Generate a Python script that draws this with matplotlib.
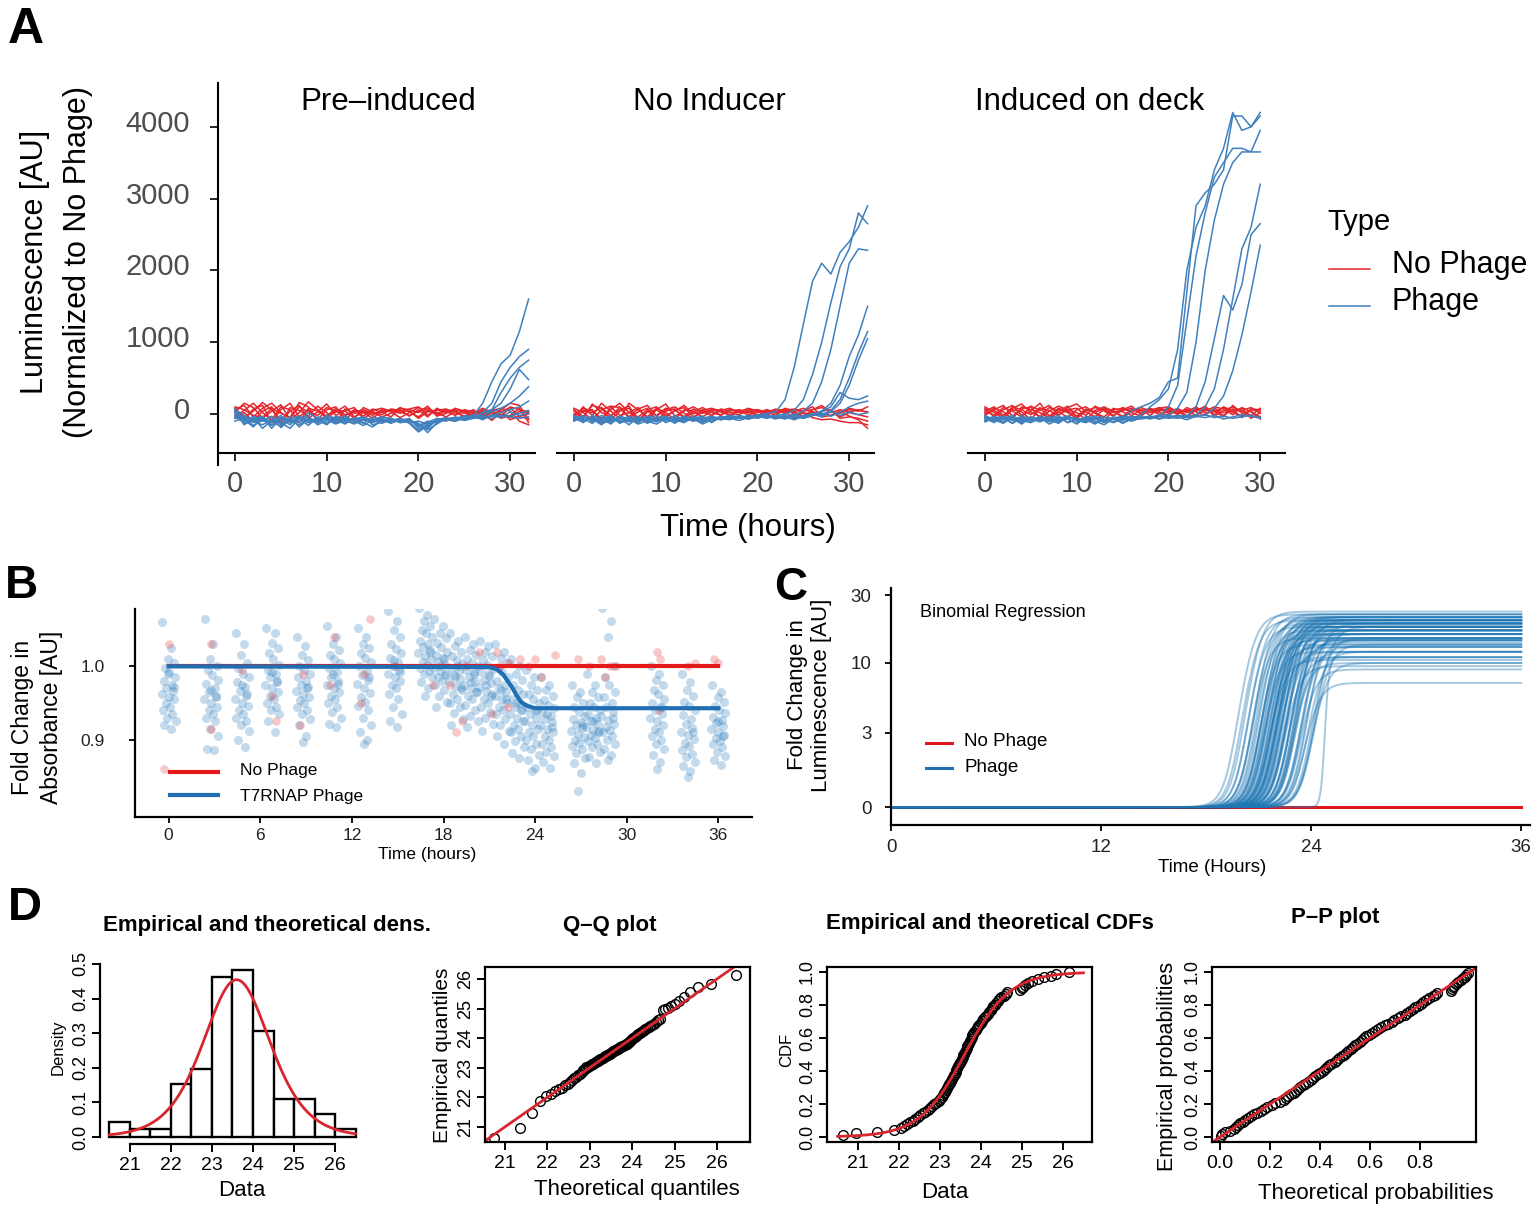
import numpy as np
import matplotlib
matplotlib.use("Agg")
import matplotlib.pyplot as plt
import matplotlib.transforms as mtransforms
from matplotlib.lines import Line2D
from matplotlib.ticker import NullLocator

plt.rcParams["font.family"] = ["Liberation Sans", "DejaVu Sans"]

# ---------------- Panel A: luminescence traces (AU), one value per hour ----------------
hours_a = list(range(33))
hours_a3 = list(range(31))

pre_red = [
    [60, 120, -40, 80, 150, 20, -60, 100, 30, -20, 90, 40, -30, 60, 20, 50, 80, 40, 10, 70, 100, -20, 60, 30, -10, 50, 20, 40, -30, 60, 150, 120, -80],
    [-30, 50, 150, 20, -80, 100, 60, -120, 80, 40, -50, 30, 110, -40, 20, -60, 40, 60, 30, -20, 40, 80, 20, -40, 30, 10, 60, -50, 20, -60, -20, 80, -120],
    [80, -50, 40, 160, 60, -100, 40, 120, -60, 30, 140, -20, 50, 90, -70, 30, -10, 70, 50, 40, -60, 30, 50, 70, 20, -30, 40, 10, -90, 30, 90, -40, -60],
    [20, 150, 90, -60, 40, 130, -80, 20, 170, 60, -30, 80, -10, 30, 60, 10, 30, -40, 80, 60, 20, 110, -30, 10, 80, 40, -20, 60, 40, -10, -50, 40, 20],
    [-60, 20, -100, 40, 100, -150, 90, 50, -30, 110, 20, -120, 70, 10, 40, -20, 60, 30, -50, 20, 90, 40, 10, 60, -20, 60, 30, -10, 50, 80, 40, -100, -150],
    [40, -80, 70, 120, -120, 60, 150, -40, 60, -80, 60, 100, -90, 50, -30, 70, 20, 50, 60, -30, 60, -40, 80, 20, 50, -50, 10, 80, 20, -40, 100, 60, 30],
    [100, 60, -20, -50, 80, 10, -50, 160, 100, -100, -20, 50, 40, -60, 90, 30, -40, 10, 90, 30, -40, 60, -10, 40, 60, 30, -40, 20, 60, 30, -80, -30, 0],
]
pre_blue = [
    [50, -150, -60, -100, -30, -190, -80, -120, 20, -60, -140, -30, -80, -60, -120, -180, -90, -70, -100, -110, -230, -140, -90, -80, -60, -30, -20, 150, 450, 700, 820, 1150, 1600],
    [-20, -80, -180, -40, -120, -60, -150, -30, -90, -120, -50, -100, -20, -110, -70, -100, -60, -120, -90, -80, -180, -120, -60, -100, -40, -70, -50, 20, 150, 450, 650, 800, 900],
    [80, -100, -40, -200, -90, -20, -120, -60, -160, -40, -80, -140, -60, -90, -130, -40, -80, -70, -120, -100, -140, -200, -80, -50, -90, -40, -20, -30, 60, 300, 500, 650, 750],
    [-60, -30, -120, -70, -150, -100, -40, -180, -70, -100, -20, -60, -120, -70, -40, -150, -110, -90, -60, -130, -250, -160, -100, -70, -50, -80, -40, 20, 60, 150, 350, 620, 480],
    [30, -140, -80, -30, -200, -60, -100, -40, -120, -80, -150, -40, -90, -140, -60, -120, -60, -100, -80, -70, -160, -100, -110, -60, -70, -30, -60, -20, 30, 80, 150, 250, 380],
    [-100, -50, -160, -90, -40, -140, -70, -110, -30, -150, -90, -70, -40, -100, -160, -80, -40, -60, -120, -90, -130, -260, -120, -80, -100, -60, -40, -70, -20, 20, 60, 100, 180],
    [0, -60, -110, -150, -80, -120, -200, -60, -90, -60, -120, -80, -140, -50, -90, -80, -100, -60, -110, -60, -200, -180, -70, -90, -60, -80, -50, -60, -30, -20, -40, -60, -40],
    [-40, -120, -30, -80, -160, -40, -100, -150, -60, -130, -40, -110, -70, -130, -60, -110, -80, -130, -70, -90, -150, -220, -140, -60, -100, -50, -30, -80, -10, -50, 30, -20, 10],
    [60, -20, -90, -60, -110, -170, -60, -30, -120, -90, -60, -130, -100, -80, -40, -90, -130, -80, -90, -120, -100, -140, -110, -70, -50, -90, -60, -40, -60, -20, -30, 10, 50],
]
noind_red = [
    [-20, 80, 40, -60, 60, 150, 20, -40, 60, 100, -20, 40, 120, 0, 60, -20, 50, 80, 20, 40, 60, -10, 40, 70, 20, -30, 60, 90, 30, 10, 60, 40, 100],
    [60, -40, 120, 80, -80, 40, 80, -120, 40, -20, 80, 60, -40, 70, 10, 60, 30, -10, 50, 20, 30, 50, 10, 40, -60, 50, 100, -40, -20, 40, -30, -80, -200],
    [-50, 100, -20, 150, 40, -60, 150, 60, -40, 80, 20, -80, 60, 40, -40, 40, -20, 60, 40, -10, 20, 60, 30, 20, 60, 20, -20, 40, 60, -60, -40, -60, -100],
    [80, 20, -80, 60, 110, 90, -40, 70, 120, -30, 60, 100, 10, -60, 50, 80, 40, 20, -10, 60, 50, 20, 70, 10, 40, 80, 30, 10, -20, 30, 80, 50, 30],
    [0, 50, 60, -100, 100, -20, 20, 90, -70, 60, 140, -30, 40, 100, 30, -20, 70, 40, 60, 30, -20, 40, 50, 60, 0, 10, -50, -80, -70, -100, -120, -120, -150],
    [40, -60, 140, 20, -40, 100, -60, 30, 80, -100, 40, 70, -60, 30, 90, 20, -10, 60, 30, 80, 40, -10, 30, 50, 70, 40, 60, 120, 20, 60, 30, 60, 20],
    [-80, 40, 20, 90, -20, 60, 110, -80, 30, 60, -40, 50, 90, -40, 20, 60, 50, -30, 40, 20, 60, 30, -20, 80, 40, -40, 30, -30, 40, -40, 20, -10, -40],
]
noind_blue = [
    [-20, -80, -40, -120, -60, -90, -30, -110, -50, -80, -40, -90, -60, -100, -40, -70, -50, -30, -60, -40, -20, 10, 30, 200, 650, 1250, 1850, 2100, 1950, 2250, 2400, 2600, 2900],
    [-60, -30, -100, -50, -140, -40, -80, -120, -30, -90, -60, -130, -40, -70, -110, -50, -80, -60, -40, -70, -30, -50, -20, 0, 50, 200, 550, 1000, 1550, 2050, 2300, 2800, 2650],
    [-100, -40, -70, -150, -20, -110, -60, -40, -130, -50, -100, -20, -90, -60, -30, -120, -40, -70, -50, -30, -60, -20, -40, -60, -20, 40, 150, 450, 900, 1500, 2100, 2300, 2280],
    [-40, -120, -20, -80, -100, -60, -150, -40, -70, -110, -30, -80, -120, -50, -90, -40, -60, -80, -20, -50, -40, -10, -60, -30, -70, -20, 0, 40, 150, 400, 800, 1100, 1500],
    [-80, -20, -110, -60, -30, -130, -50, -90, -60, -20, -120, -70, -40, -100, -60, -30, -80, -40, -60, -20, -50, -30, -70, -10, -40, -60, -20, -10, 50, 200, 500, 850, 1150],
    [-30, -90, -50, -140, -80, -40, -100, -60, -120, -70, -40, -90, -30, -80, -120, -60, -40, -70, -50, -30, -20, -50, -40, -70, -20, -40, 0, -30, 30, 150, 400, 750, 1050],
    [-50, -70, -130, -20, -90, -60, -110, -80, -40, -100, -70, -50, -100, -60, -140, -80, -50, -20, -40, -60, -10, -40, -30, -50, 0, -60, -20, 30, 100, 300, 220, 200, 250],
    [-90, -40, -60, -100, -120, -30, -70, -140, -90, -60, -30, -110, -80, -40, -70, -100, -60, -50, -30, -70, -40, -20, -50, -30, -10, -50, -20, 10, -30, 20, 100, 150, 180],
    [-60, -110, -30, -70, -50, -120, -90, -40, -100, -140, -60, -70, -110, -30, -90, -70, -40, -60, -90, -50, -30, -60, -20, -40, -80, -30, 0, -40, 40, -20, 30, -10, 20],
]
deck_red = [
    [40, 100, -20, 80, 140, 20, -30, 90, 40, -50, 60, 100, 10, -40, 80, 30, -20, 60, 20, 40, 80, 10, 50, -20, 60, 30, 90, 20, -30, 60, 40],
    [80, -40, 60, 120, -20, 40, 150, -30, 70, 20, -60, 40, 90, 60, -20, 50, 80, 10, 60, -10, 40, 70, 20, 60, 90, -30, 50, 100, 40, -20, 80],
    [-20, 60, 120, -30, 70, 100, -60, 40, 110, 60, 20, -80, 50, 100, 30, -30, 60, 40, 80, 20, -20, 60, 30, 100, 10, 60, -20, 70, 50, 90, 10],
    [100, 20, -60, 60, 30, -80, 80, 50, -20, 90, 140, 30, -40, 70, 20, 60, 110, -10, 50, 90, 30, 40, -40, 80, 40, 100, 70, -10, 90, 30, -40],
    [0, 80, 30, -70, 100, 60, 20, -60, 80, 40, -30, 70, 30, -100, 60, 80, 20, -30, 70, 50, 60, -10, 90, 30, -20, 80, 20, 60, -50, 70, 60],
    [60, -20, 90, 40, -40, 110, 50, 120, -10, 60, 80, -20, 110, 40, -30, 90, 40, 60, -20, 80, 100, 30, 60, 40, 110, -10, 100, 40, 80, -60, 20],
    [20, 50, -40, 100, 60, -10, 90, -70, 30, 110, -40, 60, 20, 80, 50, -50, 30, 90, 40, 70, 10, 80, -30, 50, 70, 40, -40, 120, 10, 40, -70],
]
deck_blue = [
    [-40, -100, -60, -20, -120, -70, -50, -140, -80, -30, -100, -60, -120, -90, -40, -70, 50, 100, 150, 230, 450, 500, 1700, 2900, 3080, 3200, 3400, 4150, 4150, 4000, 4200],
    [-80, -30, -110, -60, -140, -40, -90, -60, -20, -120, -80, -50, -100, -150, -60, -30, -50, -20, 100, 200, 350, 900, 2000, 2600, 2900, 3400, 3700, 4200, 3950, 4000, 4150],
    [-20, -90, -50, -130, -60, -100, -30, -80, -120, -50, -70, -110, -40, -90, -60, -130, -70, -40, -60, -30, 100, 400, 1300, 2200, 2800, 3300, 3500, 3700, 3700, 3650, 3950],
    [-100, -50, -80, -30, -90, -120, -60, -40, -100, -70, -130, -60, -30, -80, -110, -50, -80, -60, -40, -20, -10, 80, 300, 1000, 2000, 2700, 3200, 3500, 3650, 3650, 3650],
    [-60, -120, -30, -90, -50, -70, -110, -40, -80, -60, -140, -30, -70, -100, -50, -120, -60, -40, -70, -30, -50, -20, -30, 100, 450, 1050, 1650, 1450, 1800, 2500, 2650],
    [-30, -70, -110, -50, -80, -40, -100, -70, -130, -40, -60, -90, -50, -80, -120, -70, -30, -60, -40, -70, -20, -50, -40, -10, 100, 350, 900, 1600, 2300, 2600, 3200],
    [-90, -40, -60, -130, -20, -80, -50, -110, -60, -30, -90, -120, -60, -40, -80, -60, -100, -50, -30, -60, -40, -20, -50, -30, -10, 80, 250, 600, 1100, 1700, 2350],
    [-50, -80, -130, -40, -70, -100, -60, -90, -40, -120, -60, -80, -140, -50, -70, -40, -90, -60, -30, -70, -40, -60, -20, -40, -10, -50, -30, -60, -40, -20, -50],
    [-110, -60, -30, -90, -110, -50, -80, -60, -100, -30, -90, -50, -70, -120, -60, -90, -40, -70, -50, -20, -60, -40, -80, -30, -50, -20, -70, -40, -10, -30, -60],
]
facet_titles = ["Pre\u2013induced", "No Inducer", "Induced on deck"]

# ---------------- Panel B: absorbance fold change ----------------
b_col_times = [0, 2.8, 4.8, 6.8, 8.8, 10.8, 12.8, 14.8, 16.8, 17.8, 18.8, 19.8,
               20.8, 21.8, 22.8, 23.8, 24.8, 26.8, 27.8, 28.8, 32, 34, 36]
b_jitter = [-0.35, 0.12, -0.05, 0.30, -0.20, 0.05, 0.38, -0.28, 0.18, -0.12, 0.25, -0.40,
            0.00, 0.33, -0.15, 0.08, -0.32, 0.22, -0.08, 0.40, -0.25, 0.15, -0.02, 0.28]
# fold change x1000, one list per time column
b_cols = [
    [1060, 1025, 1010, 1005, 998, 992, 985, 980, 975, 970, 966, 962, 958, 955, 950, 945, 940, 935, 930, 925, 920, 915, 990, 972],
    [1065, 1030, 1010, 1000, 995, 988, 982, 976, 970, 965, 960, 955, 950, 945, 940, 935, 930, 925, 915, 905, 888, 886, 968, 958],
    [1045, 1030, 1015, 1005, 998, 990, 985, 978, 972, 966, 960, 955, 950, 946, 940, 935, 930, 925, 920, 912, 900, 890, 975, 962],
    [1052, 1045, 1032, 1025, 1018, 1010, 1002, 995, 990, 985, 980, 975, 970, 965, 960, 955, 950, 945, 940, 935, 925, 910, 992, 978],
    [1040, 1028, 1015, 1008, 1000, 995, 990, 985, 980, 975, 970, 966, 962, 958, 954, 950, 945, 940, 935, 928, 920, 905, 897, 972],
    [1055, 1040, 1030, 1022, 1015, 1010, 1004, 998, 992, 986, 980, 975, 970, 965, 960, 955, 950, 945, 938, 930, 922, 918, 990, 976],
    [1052, 1040, 1030, 1025, 1018, 1012, 1006, 1000, 994, 988, 982, 976, 970, 964, 958, 952, 946, 940, 930, 920, 910, 900, 895, 985],
    [1075, 1062, 1050, 1040, 1030, 1024, 1018, 1012, 1006, 1000, 995, 990, 985, 980, 975, 970, 962, 955, 945, 935, 925, 918, 1008, 992],
    [1080, 1070, 1062, 1055, 1050, 1045, 1040, 1035, 1030, 1026, 1022, 1018, 1014, 1010, 1006, 1002, 998, 994, 990, 985, 978, 970, 960, 1020],
    [1065, 1055, 1045, 1038, 1032, 1026, 1020, 1015, 1010, 1006, 1002, 998, 994, 990, 985, 980, 975, 968, 960, 952, 945, 1012, 1000, 988],
    [1045, 1035, 1028, 1020, 1014, 1008, 1003, 998, 993, 988, 983, 978, 973, 968, 962, 956, 950, 944, 936, 928, 920, 1000, 985, 970],
    [1040, 1030, 1022, 1015, 1010, 1005, 1000, 995, 990, 985, 980, 975, 970, 965, 960, 955, 948, 940, 932, 925, 918, 992, 978, 965],
    [1035, 1028, 1020, 1014, 1008, 1002, 997, 992, 987, 982, 977, 972, 967, 962, 956, 950, 944, 938, 930, 922, 912, 990, 975, 960],
    [1030, 1020, 1012, 1005, 998, 992, 986, 980, 975, 970, 965, 960, 955, 950, 945, 940, 935, 928, 920, 912, 905, 895, 968, 955],
    [1010, 1000, 990, 982, 975, 968, 962, 956, 950, 945, 940, 935, 930, 925, 920, 915, 910, 905, 898, 890, 882, 875, 950, 940],
    [995, 985, 975, 968, 962, 956, 950, 945, 940, 935, 930, 925, 920, 915, 910, 905, 900, 895, 888, 880, 872, 862, 858, 940],
    [985, 975, 968, 960, 954, 948, 943, 938, 933, 928, 924, 920, 915, 910, 905, 900, 895, 890, 884, 878, 870, 862, 935, 918],
    [975, 965, 958, 950, 944, 938, 933, 928, 924, 920, 916, 912, 908, 904, 900, 896, 892, 888, 882, 875, 868, 855, 830, 920],
    [990, 975, 965, 958, 950, 945, 940, 935, 930, 926, 922, 918, 914, 910, 906, 902, 898, 894, 890, 884, 876, 868, 925, 912],
    [1080, 1062, 1040, 1000, 985, 975, 965, 958, 950, 944, 938, 932, 927, 922, 918, 914, 910, 905, 900, 895, 888, 880, 872, 930],
    [1000, 990, 982, 975, 968, 962, 956, 950, 945, 940, 935, 930, 925, 920, 915, 910, 905, 900, 895, 888, 880, 870, 860, 945],
    [990, 978, 968, 960, 952, 946, 940, 934, 928, 922, 916, 911, 906, 901, 896, 891, 886, 881, 876, 870, 864, 858, 850, 910],
    [975, 965, 958, 952, 946, 941, 936, 931, 927, 923, 919, 915, 911, 907, 903, 899, 895, 890, 884, 878, 872, 866, 925, 905],
]
b_red_t = [0, -0.3, 2.8, 2.8, 4.8, 6.8, 7.0, 8.8, 8.6, 10.8, 10.6, 12.8, 12.6, 13.2, 14.8, 17.3, 18.4, 18.8,
           19.5, 20.3, 21.5, 21.7, 22.3, 23.0, 23.6, 24.0, 24.4, 25.3, 26.8, 27.5, 28.3, 28.9, 29.3, 28.6,
           32.0, 32.2, 32.1, 34.0, 34.5, 35.7, 36.0, 22.2, 21.2, 19.2]
b_red_y = [1.03, 0.86, 1.03, 0.915, 0.995, 0.96, 0.925, 0.99, 0.92, 1.04, 0.975, 0.99, 0.95, 1.065, 1.0, 0.975,
           0.975, 0.91, 1.0, 1.02, 1.02, 1.0, 1.005, 1.01, 1.0, 1.01, 0.985, 1.015, 1.01, 1.0, 1.01, 1.0, 1.0,
           0.985, 1.02, 1.01, 0.94, 1.0, 1.005, 1.01, 1.005, 0.945, 0.935, 0.925]
b_fit_t = [0, 21.0, 21.5, 21.9, 22.2, 22.5, 22.8, 23.1, 23.5, 24.0, 36]
b_fit_phage = [1.0, 0.999, 0.996, 0.989, 0.980, 0.971, 0.960, 0.951, 0.946, 0.943, 0.943]
b_fit_nophage_t = [0, 36]
b_fit_nophage = [1.0, 1.0]

# ---------------- Panel C: binomial regression curves ----------------
c_mid = [20.5, 20.7, 20.9, 21.0, 21.1, 21.2, 21.3, 21.4, 21.5, 21.5, 21.6, 21.7, 21.7, 21.8, 21.8, 21.9,
         21.9, 22.0, 22.0, 22.0, 22.1, 22.1, 22.2, 22.2, 22.2, 22.3, 22.3, 22.3, 22.4, 22.4, 22.5, 22.5,
         22.5, 22.6, 22.6, 22.6, 22.7, 22.7, 22.7, 22.8, 22.8, 22.8, 22.9, 22.9, 22.9, 23.0, 23.0, 23.1,
         23.1, 23.1, 23.2, 23.2, 23.3, 23.3, 23.4, 23.4, 23.5, 23.5, 23.6, 23.6, 23.7, 23.7, 23.8, 23.8,
         23.9, 24.0, 24.0, 24.1, 24.2, 24.3, 24.4, 24.5, 24.6, 24.7, 24.8, 24.9]
c_plateau = [22, 20, 23, 18, 21, 15, 19, 22, 17, 20, 13.5, 21, 16, 19, 12, 18, 22, 14.5, 20, 17, 19, 10.5,
             21, 16, 13, 18, 20, 15, 17, 11, 19, 21, 13.5, 18, 16, 20, 12, 17, 19, 14.5, 21, 18, 9.5, 16,
             20, 13, 19, 17, 15, 21, 11, 18, 14, 20, 16, 10, 19, 14.5, 17, 12, 18, 15, 9, 20, 13, 7.2, 16,
             17, 14.5, 12, 19, 10, 15, 13.5, 18, 11]
c_scale = [0.45] * 75 + [0.12]

# ---------------- Panel D: fitted distribution of 91 values ----------------
d_values = [20.62, 20.96, 21.46, 21.88,
            22.04, 22.12, 22.20, 22.27, 22.33, 22.40, 22.46,
            22.52, 22.58, 22.64, 22.70, 22.75, 22.80, 22.86, 22.91, 22.97,
            23.01, 23.04, 23.06, 23.09, 23.12, 23.14, 23.17, 23.19, 23.22, 23.24, 23.26, 23.29, 23.31,
            23.33, 23.36, 23.38, 23.40, 23.42, 23.44, 23.46, 23.48,
            23.51, 23.53, 23.55, 23.57, 23.59, 23.61, 23.63, 23.65, 23.67, 23.69, 23.71, 23.73, 23.75,
            23.77, 23.79, 23.81, 23.84, 23.87, 23.90, 23.93, 23.96, 23.99,
            24.03, 24.06, 24.10, 24.13, 24.17, 24.20, 24.24, 24.27, 24.30, 24.34, 24.37, 24.41, 24.45, 24.49,
            24.56, 24.60, 24.64, 24.96, 24.99,
            25.03, 25.08, 25.14, 25.25, 25.40,
            25.55, 25.72, 25.82, 26.14]
d_bins = [20.5, 21.0, 21.5, 22.0, 22.5, 23.0, 23.5, 24.0, 24.5, 25.0, 25.5, 26.0, 26.5]
fit_loc, fit_scale = 23.6, 0.55   # fitted logistic distribution

for s in pre_red + pre_blue + noind_red + noind_blue:
    assert len(s) == 33
for s in deck_red + deck_blue:
    assert len(s) == 31
assert len(c_mid) == len(c_plateau) == len(c_scale)
assert len(d_values) == 91

# ---------------- figure ----------------
W, H = 1540, 1210
fig = plt.figure(figsize=(W / 100, H / 100), dpi=100)


def px_axes(left, top, right, bottom):
    return fig.add_axes([left / W, 1 - bottom / H, (right - left) / W, (bottom - top) / H])


def ftext(x, y, s, **kw):
    kw.setdefault("ha", "center")
    kw.setdefault("va", "center")
    return fig.text(x / W, 1 - y / H, s, **kw)


def fline(x0, x1, y, **kw):
    fig.add_artist(Line2D([x0 / W, x1 / W], [1 - y / H, 1 - y / H], transform=fig.transFigure, **kw))


RED_A, BLUE_A = "#e4272d", "#3f80bd"
GREY = "#4d4d4d"

# ---- Panel A
a_axes_x = [(218, 535), (557, 874), (968, 1285)]
a_title_x = [388, 709, 1090]
a_data = [(hours_a, pre_red, pre_blue), (hours_a, noind_red, noind_blue), (hours_a3, deck_red, deck_blue)]
lift = mtransforms.ScaledTranslation(0, 6 / 100, fig.dpi_scale_trans)
for i, ((l, r), (tt, reds, blues)) in enumerate(zip(a_axes_x, a_data)):
    ax = px_axes(l, 83, r, 453)
    for s in reds:
        ax.plot(tt, s, color=RED_A, lw=1.1)
    for s in blues:
        ax.plot(tt, s, color=BLUE_A, lw=1.1)
    ax.set_xlim(-1.85, 32.7)
    ax.set_ylim(-543, 4610)
    ax.set_xticks([0, 10, 20, 30])
    for sp in ("top", "right"):
        ax.spines[sp].set_visible(False)
    ax.spines["bottom"].set_linewidth(1.5)
    ax.tick_params(axis="x", length=6, width=1.2, labelsize=21, labelcolor=GREY, pad=6)
    if i == 0:
        ax.set_yticks([0, 1000, 2000, 3000, 4000])
        ax.spines["left"].set_linewidth(1.5)
        ax.spines["left"].set_bounds(-710, 4610)
        ax.tick_params(axis="y", length=6, width=1.2, labelsize=21, labelcolor=GREY, pad=14)
        for lab in ax.get_yticklabels():
            lab.set_transform(lab.get_transform() + lift)
    else:
        ax.spines["left"].set_visible(False)
        ax.set_yticks([])
    ftext(a_title_x[i], 102, facet_titles[i], fontsize=22.5)

ftext(748, 528, "Time (hours)", fontsize=22.5)
ftext(35, 262, "Luminescence [AU]", fontsize=22, rotation=90)
ftext(78, 262, "(Normalized to No Phage)", fontsize=22, rotation=90)
ftext(1327, 222, "Type", fontsize=21, ha="left")
fline(1329, 1370, 269, color=RED_A, lw=1.1)
fline(1329, 1370, 306, color=BLUE_A, lw=1.1)
ftext(1392, 265, "No Phage", fontsize=22, ha="left")
ftext(1392, 302, "Phage", fontsize=22, ha="left")

# ---- Panel B
RED_B, BLUE_B = "#e31a1c", "#1f6fb2"
axb = px_axes(135, 609, 752, 817)
bx = np.concatenate([np.array(b_jitter) * 1.15 + t for t in b_col_times])
by = np.concatenate([np.array(c) / 1000 for c in b_cols])
axb.scatter(bx, by, s=42, color="#2a7bbd", alpha=0.28, lw=0)
axb.scatter(b_red_t, b_red_y, s=38, color="#e8474b", alpha=0.3, lw=0)
axb.plot(b_fit_nophage_t, b_fit_nophage, color=RED_B, lw=3)
axb.plot(b_fit_t, b_fit_phage, color=BLUE_B, lw=3)
axb.set_xlim(-2.2, 38.2)
axb.set_ylim(0.795, 1.078)
axb.set_xticks([0, 6, 12, 18, 24, 30, 36])
axb.set_yticks([0.9, 1.0])
axb.set_yticklabels(["0.9", "1.0"])
for sp in ("top", "right"):
    axb.spines[sp].set_visible(False)
for sp in ("left", "bottom"):
    axb.spines[sp].set_linewidth(1.6)
axb.tick_params(axis="both", length=4, width=1.3, labelsize=12.5, labelcolor="#222222")
axb.tick_params(axis="y", pad=18)
axb.tick_params(axis="x", pad=4)
ftext(427, 855, "Time (hours)", fontsize=12.5)
ftext(23, 717, "Fold Change in", fontsize=16.5, rotation=90)
ftext(52, 717, "Absorbance [AU]", fontsize=16.5, rotation=90)
fline(170, 218, 772, color=RED_B, lw=3)
fline(170, 218, 795, color=BLUE_B, lw=3)
ftext(240, 771, "No Phage", fontsize=12.5, ha="left")
ftext(240, 796, "T7RNAP Phage", fontsize=12.5, ha="left")

# ---- Panel C
axc = px_axes(891, 588, 1530, 825)
tc = np.linspace(0, 36, 721)
axc.plot([0, 36], [0, 0], color="#e0191e", lw=2.2)
for m, p, sc in zip(c_mid, c_plateau, c_scale):
    axc.plot(tc, p / (1 + np.exp(-(tc - m) / sc)), color="#1f77b4", alpha=0.4, lw=1.4)
axc.set_yscale("asinh", linear_width=2)
axc.set_ylim(-0.58, 33.6)
axc.set_xlim(0, 36.5)
axc.set_yticks([0, 3, 10, 30])
axc.set_yticklabels(["0", "3", "10", "30"])
axc.yaxis.set_minor_locator(NullLocator())
axc.set_xticks([0, 12, 24, 36])
for sp in ("top", "right"):
    axc.spines[sp].set_visible(False)
for sp in ("left", "bottom"):
    axc.spines[sp].set_linewidth(1.6)
axc.tick_params(axis="both", length=4, width=1.3, labelsize=13.5, labelcolor="#222222")
axc.tick_params(axis="y", pad=10)
axc.tick_params(axis="x", pad=6)
ftext(1212, 867, "Time (Hours)", fontsize=13.5)
ftext(797, 695, "Fold Change in", fontsize=16, rotation=90)
ftext(822, 695, "Luminescence [AU]", fontsize=16, rotation=90)
ftext(920, 612, "Binomial Regression", fontsize=13, ha="left")
fline(926, 952, 743, color="#e0191e", lw=2.2)
fline(926, 952, 768, color="#1f6fb2", lw=2.2)
ftext(964, 742, "No Phage", fontsize=13.5, ha="left")
ftext(964, 768, "Phage", fontsize=13.5, ha="left")

# ---- Panel D
RED_D = "#d7262e"
data = np.array(d_values)
n = len(data)
xs = np.sort(data)
pp = (np.arange(1, n + 1) - 0.5) / n
ecdf = np.arange(1, n + 1) / n
grid = np.linspace(20.5, 26.5, 400)
zg = np.exp(-(grid - fit_loc) / fit_scale)
pdf = zg / (fit_scale * (1 + zg) ** 2)
cdf = 1 / (1 + zg)
theo_q = fit_loc + fit_scale * np.log(pp / (1 - pp))
theo_p = 1 / (1 + np.exp(-(xs - fit_loc) / fit_scale))


def d_style(ax, box=True):
    for sp in ax.spines.values():
        sp.set_linewidth(1.6)
        sp.set_visible(box)
    ax.tick_params(axis="both", length=6, width=1.4, labelsize=14, pad=3)
    ax.tick_params(axis="y", labelsize=13, pad=2)
    for lab in ax.get_yticklabels():
        lab.set_rotation(90)
        lab.set_va("center")


mk = dict(marker="o", ls="none", mfc="none", mec="black", ms=7, mew=1.0)

# D1 histogram + density
ax1 = px_axes(100, 955, 365, 1144)
ax1.hist(data, bins=d_bins, density=True, facecolor="white", edgecolor="black", lw=1.7)
ax1.plot(grid, pdf, color=RED_D, lw=2)
ax1.set_xlim(20.27, 26.73)
ax1.set_ylim(-0.0202, 0.526)
ax1.set_xticks([21, 22, 23, 24, 25, 26])
ax1.set_yticks([0.0, 0.1, 0.2, 0.3, 0.4, 0.5])
ax1.set_yticklabels(["0.0", "0.1", "0.2", "0.3", "0.4", "0.5"])
d_style(ax1, box=False)
ax1.spines["left"].set_visible(True)
ax1.spines["bottom"].set_visible(True)
ax1.spines["left"].set_bounds(0, 0.5)
ax1.spines["bottom"].set_bounds(21, 26)

# D2 Q-Q
ax2 = px_axes(485, 967, 750, 1142)
ax2.plot(theo_q, xs, **mk)
ax2.axline((21, 21), slope=1, color=RED_D, lw=2)
ax2.set_xlim(20.53, 26.78)
ax2.set_ylim(20.49, 26.405)
ax2.set_xticks([21, 22, 23, 24, 25, 26])
ax2.set_yticks([21, 22, 23, 24, 25, 26])
ax2.set_yticklabels(["21", "22", "23", "24", "25", "26"])
d_style(ax2)

# D3 CDF
ax3 = px_axes(827, 967, 1092, 1142)
ax3.plot(xs, ecdf, **mk)
ax3.plot(grid, cdf, color=RED_D, lw=2)
ax3.set_xlim(20.24, 26.71)
ax3.set_ylim(-0.0303, 1.0303)
ax3.set_xticks([21, 22, 23, 24, 25, 26])
ax3.set_yticks([0, 0.2, 0.4, 0.6, 0.8, 1.0])
ax3.set_yticklabels(["0.0", "0.2", "0.4", "0.6", "0.8", "1.0"])
d_style(ax3)

# D4 P-P
ax4 = px_axes(1212, 967, 1476, 1142)
ax4.plot(theo_p, pp, **mk)
ax4.axline((0, 0), slope=1, color=RED_D, lw=2)
ax4.set_xlim(-0.032, 1.024)
ax4.set_ylim(-0.0303, 1.0303)
ax4.set_xticks([0, 0.2, 0.4, 0.6, 0.8])
ax4.set_xticklabels(["0.0", "0.2", "0.4", "0.6", "0.8"])
ax4.set_yticks([0, 0.2, 0.4, 0.6, 0.8, 1.0])
ax4.set_yticklabels(["0.0", "0.2", "0.4", "0.6", "0.8", "1.0"])
d_style(ax4)

ftext(267, 926, "Empirical and theoretical dens.", fontsize=16, fontweight="bold")
ftext(610, 926, "Q\u2013Q plot", fontsize=16, fontweight="bold")
ftext(990, 923, "Empirical and theoretical CDFs", fontsize=16, fontweight="bold")
ftext(1335, 918, "P\u2013P plot", fontsize=16, fontweight="bold")
ftext(242, 1190, "Data", fontsize=16)
ftext(58, 1047, "Density", fontsize=12, rotation=90)
ftext(637, 1190, "Theoretical quantiles", fontsize=16)
ftext(443, 1055, "Empirical quantiles", fontsize=15, rotation=90)
ftext(945, 1193, "Data", fontsize=16)
ftext(787, 1050, "CDF", fontsize=12, rotation=90)
ftext(1376, 1193, "Theoretical probabilities", fontsize=16)
ftext(1168, 1066, "Empirical probabilities", fontsize=15.5, rotation=90)

# panel letters
ftext(8, 30, "A", fontsize=36, fontweight="bold", ha="left")
ftext(5, 586, "B", fontsize=33, fontweight="bold", ha="left")
ftext(774, 588, "C", fontsize=33, fontweight="bold", ha="left")
ftext(8, 908, "D", fontsize=34, fontweight="bold", ha="left")

fig.savefig("out.png", dpi=100)
